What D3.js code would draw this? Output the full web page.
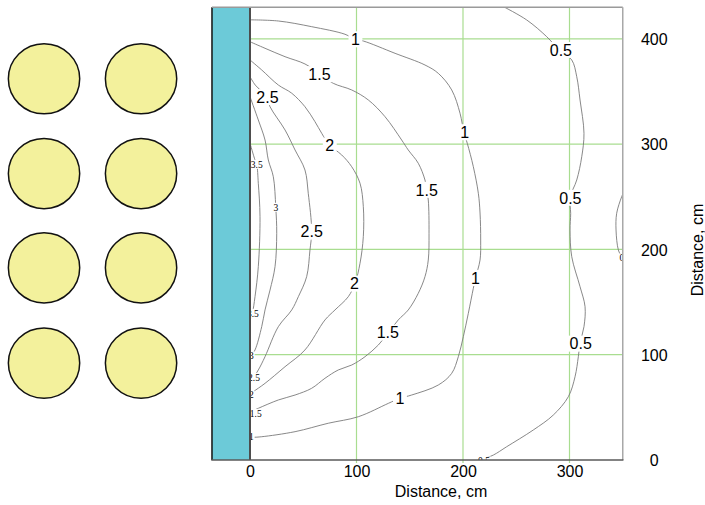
<!DOCTYPE html>
<html>
<head>
<meta charset="utf-8">
<script src="https://cdn.jsdelivr.net/npm/d3@7"></script>
<style>
  body { margin: 0; background: #fff; }
  svg { display: block; }
</style>
</head>
<body>
<svg id="chart" width="705" height="505"></svg>
<script>
// ---- axes, grid and layout objects (cm) ----
const xTicks = [0, 100, 200, 300];
const yTicks = [0, 100, 200, 300, 400];
const xGrid = [100, 200, 300];
const yGrid = [100, 200, 300, 400];
const xDomain = [0, 350];
const yDomain = [0, 430];
const wallX = [-35.7, 0];
const columnX = [-193.4, -102.3];
const columnY = [362, 272, 182.5, 92];
const columnRadius = 33.3;

// ---- isolines, traced as [distance from wall, height] in cm ----
const line05 = [[238,430.5],[259.8,417.9],[278.6,402],[290.4,389.4],[302.1,379.9],[306.8,364],[309.9,341.9],[313.6,310.3],[311.5,288],[306.8,265.9],[300.5,249.1],[301.1,234.3],[300.5,218.4],[302.1,193.1],[309.9,164.6],[314.6,145.6],[313.6,126.6],[309.9,110.8],[308.3,98.1],[305.2,79.1],[298.9,60.1],[284.8,42.7],[266,28.5],[241,12.6],[228.5,4.7],[219,0.9],[216,-1]];
const line05Edge = [[351,254.5],[349,250],[344.3,234.3],[343.7,218.4],[345.9,199.4],[349,193.1],[351,190.5]];
const line1 = [[0,418],[26.6,416.9],[57.9,411.5],[89.2,404.3],[98.6,399.5],[106.4,397.9],[136.2,386.2],[164.3,375.1],[176.8,367.2],[189.4,351.4],[197.2,329.3],[200.9,310.8],[204,300.8],[209.7,278.5],[214.4,253.3],[216,234.6],[216.6,208.9],[216,189.9],[211.7,172.8],[209.7,163.1],[205,139.3],[200.3,117.1],[195.6,98.1],[189.4,82.3],[176.8,71.2],[151.8,61.7],[140.8,58.6],[129.9,53.8],[101.7,41.1],[73.5,34.9],[42.3,26.9],[11,22.1],[3.1,21.6],[0,21.8]];
const line15 = [[0,397.2],[14.1,391],[32.9,383],[51.6,376.1],[65.7,366.6],[78.2,357.7],[95.5,351.4],[111.1,341.9],[126.8,326],[142.4,303.9],[148.6,294.4],[158,281.8],[164.3,265.9],[165.9,256.4],[167.4,246.9],[168.1,215.3],[167.4,189.9],[164.3,174.1],[158,158.3],[148.6,142.5],[139.2,133],[129.9,120.9],[120.5,109.2],[108,98.1],[95.5,90.2],[82.9,85.5],[70.4,77.6],[57.9,68.1],[42.3,61.7],[26.6,57],[7.8,49.1],[0,45.6]];
const line2 = [[0,379.9],[11,370.4],[26.6,356.1],[39.2,348.3],[51.6,335.5],[61,321.3],[67.3,310.3],[74.5,299.1],[86.1,289.7],[95.5,278.5],[103.3,262.8],[106.4,240.6],[106.4,212.1],[103.3,186.8],[98.6,167.8],[92.3,155.1],[79.8,142.5],[70.4,133],[51.6,104.5],[32.9,88.6],[14.1,72.8],[3.1,64.9],[0,62.7]];
const line25 = [[0,364],[5,356],[15.7,345],[18.8,335.5],[32.9,313.4],[42.3,294.4],[51.6,275.4],[54.7,253.3],[57.9,217.5],[56.3,199.4],[53.2,174.1],[45.4,155.1],[39.2,142.5],[26.6,126.6],[14.1,98.1],[7.8,85.5],[3.1,78.5],[0,76]];
const line3 = [[0,345],[7.8,322.9],[14.1,303.9],[17.2,284.9],[21.9,269],[24.2,240],[25.1,215.3],[23.5,183.6],[18.8,161.4],[14.1,142.5],[11,126.6],[4.7,104.5],[0.9,98.8],[0,97]];
const line35 = [[0,300.8],[4.7,284.9],[6.3,280.8],[7.8,262.8],[9.4,231.1],[7.8,183.6],[4.7,155.1],[2.2,139.3],[0,133]];

const isolines = [
  { level: 0.5, pts: line05 },
  { level: 0.5, pts: line05Edge },
  { level: 1, pts: line1 },
  { level: 1.5, pts: line15 },
  { level: 2, pts: line2 },
  { level: 2.5, pts: line25 },
  { level: 3, pts: line3 },
  { level: 3.5, pts: line35 }
];

// inline level labels: [level, x, y]
const bigLabels = [
  [1, 99, 399.5], [1.5, 65.2, 366.4], [2.5, 16.4, 344.6], [2, 74.9, 298.6],
  [1, 201.6, 311.3], [1.5, 165.9, 256.6], [2.5, 57.9, 216.8], [2, 98.1, 167.5],
  [1, 211.7, 172.8], [1.5, 129.4, 121], [1, 140.8, 59], [0.5, 291.9, 389.4],
  [0.5, 300.8, 249], [0.5, 310.5, 110.5]
];
const smallLabels = [
  [3.5, 6.3, 280.8], [3, 24.2, 240], [1, 1.4, 22.1], [1.5, 5.4, 44.3],
  [2, 1.4, 61.7], [2.5, 3.8, 78.5], [3, 1.4, 98.8], [3.5, 2.7, 139.3],
  [0.5, 219.7, -1], [0.5, 352.6, 191.8]
];

// ---- drawing ----
const svg = d3.select("#chart");
const x = d3.scaleLinear().domain(xDomain).range([250, 622.75]);
const y = d3.scaleLinear().domain(yDomain).range([460, 7.2]);
const sans = "'Liberation Sans', Arial, Helvetica, sans-serif";
const serif = "'Liberation Serif', 'Times New Roman', serif";
const fmt = d => String(d);

svg.append("rect").attr("width", 705).attr("height", 505).attr("fill", "#fff");

// columns left of the wall
const cols = [];
columnY.forEach(cy => columnX.forEach(cx => cols.push([cx, cy])));
svg.append("g").selectAll("ellipse").data(cols).join("ellipse")
  .attr("cx", d => x(d[0])).attr("cy", d => y(d[1]))
  .attr("rx", x(columnRadius) - x(0) + 0.2)
  .attr("ry", y(0) - y(columnRadius))
  .attr("fill", "#F3F19C").attr("stroke", "#111").attr("stroke-width", 1.5);

svg.append("defs").append("clipPath").attr("id", "plotClip")
  .append("rect")
  .attr("x", x(0)).attr("y", y(yDomain[1]))
  .attr("width", x(xDomain[1]) - x(0)).attr("height", y(0) - y(yDomain[1]));

// grid
const grid = svg.append("g").attr("stroke", "#A9DD90").attr("stroke-width", 1.2);
grid.selectAll(".gx").data(xGrid).join("line")
  .attr("x1", d => x(d)).attr("x2", d => x(d))
  .attr("y1", y(yDomain[1])).attr("y2", y(0) + 3);
grid.selectAll(".gy").data(yGrid).join("line")
  .attr("x1", x(0)).attr("x2", x(xDomain[1]))
  .attr("y1", d => y(d)).attr("y2", d => y(d));

// isolines
const plot = svg.append("g").attr("clip-path", "url(#plotClip)");
const lineGen = d3.line().x(d => x(d[0])).y(d => y(d[1])).curve(d3.curveCatmullRom.alpha(0.5));
plot.selectAll("path.iso").data(isolines).join("path")
  .attr("class", "iso")
  .attr("d", d => lineGen(d.pts))
  .attr("fill", "none").attr("stroke", "#7a7a7a").attr("stroke-width", 0.9);

// labels with white knock-out boxes
function drawLabels(data, size, family, padX, boxH) {
  const g = plot.append("g");
  const items = g.selectAll("g").data(data).join("g")
    .attr("transform", d => `translate(${x(d[1])},${y(d[2])})`);
  const texts = items.append("text")
    .attr("text-anchor", "middle").attr("dy", "0.36em")
    .attr("font-family", family).attr("font-size", size).attr("fill", "#000")
    .text(d => fmt(d[0]));
  texts.each(function () {
    const w = this.getComputedTextLength();
    d3.select(this.parentNode).insert("rect", "text")
      .attr("x", -w / 2 - padX).attr("y", -boxH / 2)
      .attr("width", w + 2 * padX).attr("height", boxH)
      .attr("fill", "#fff");
  });
}
drawLabels(bigLabels, 16, sans, 2.5, 16);
drawLabels(smallLabels, 9.5, serif, 0.8, 9);

// wall
svg.append("rect")
  .attr("x", x(wallX[0])).attr("y", y(yDomain[1]))
  .attr("width", x(wallX[1]) - x(wallX[0])).attr("height", y(0) - y(yDomain[1]))
  .attr("fill", "#6CCAD8");
svg.append("line").attr("x1", x(wallX[0])).attr("x2", x(wallX[0]))
  .attr("y1", y(yDomain[1])).attr("y2", y(0)).attr("stroke", "#111").attr("stroke-width", 1.5);
svg.append("line").attr("x1", x(0)).attr("x2", x(0))
  .attr("y1", y(yDomain[1])).attr("y2", y(0)).attr("stroke", "#4d4d4d").attr("stroke-width", 2);

// frame
svg.append("line").attr("x1", x(wallX[0])).attr("x2", x(xDomain[1]))
  .attr("y1", y(yDomain[1])).attr("y2", y(yDomain[1])).attr("stroke", "#9a9a9a").attr("stroke-width", 1.5);
svg.append("line").attr("x1", x(xDomain[1])).attr("x2", x(xDomain[1]))
  .attr("y1", y(yDomain[1])).attr("y2", y(0)).attr("stroke", "#a8a8a8").attr("stroke-width", 1.5);
svg.append("line").attr("x1", x(wallX[0]) - 0.7).attr("x2", x(xDomain[1]) + 0.7)
  .attr("y1", y(0)).attr("y2", y(0)).attr("stroke", "#5a5a5a").attr("stroke-width", 1.5);

// axes
const bottom = svg.append("g").attr("transform", `translate(0,${y(0)})`)
  .call(d3.axisBottom(x).tickValues(xTicks).tickSize(0).tickPadding(6).tickFormat(fmt));
bottom.select(".domain").remove();
bottom.selectAll("text").attr("font-family", sans).attr("font-size", 16).attr("fill", "#000");

const right = svg.append("g").attr("transform", `translate(${x(xDomain[1])},0)`)
  .call(d3.axisRight(y).tickValues(yTicks).tickSize(0).tickFormat(fmt));
right.select(".domain").remove();
right.selectAll("text").attr("x", 31.5).attr("dy", "0.36em").attr("text-anchor", "middle")
  .attr("font-family", sans).attr("font-size", 16).attr("fill", "#000");

svg.append("text").attr("x", 441).attr("y", 496.5).attr("text-anchor", "middle")
  .attr("font-family", sans).attr("font-size", 16).text("Distance, cm");
svg.append("text").attr("transform", "translate(702.5,250) rotate(-90)").attr("text-anchor", "middle")
  .attr("font-family", sans).attr("font-size", 16).text("Distance, cm");
</script>
</body>
</html>
